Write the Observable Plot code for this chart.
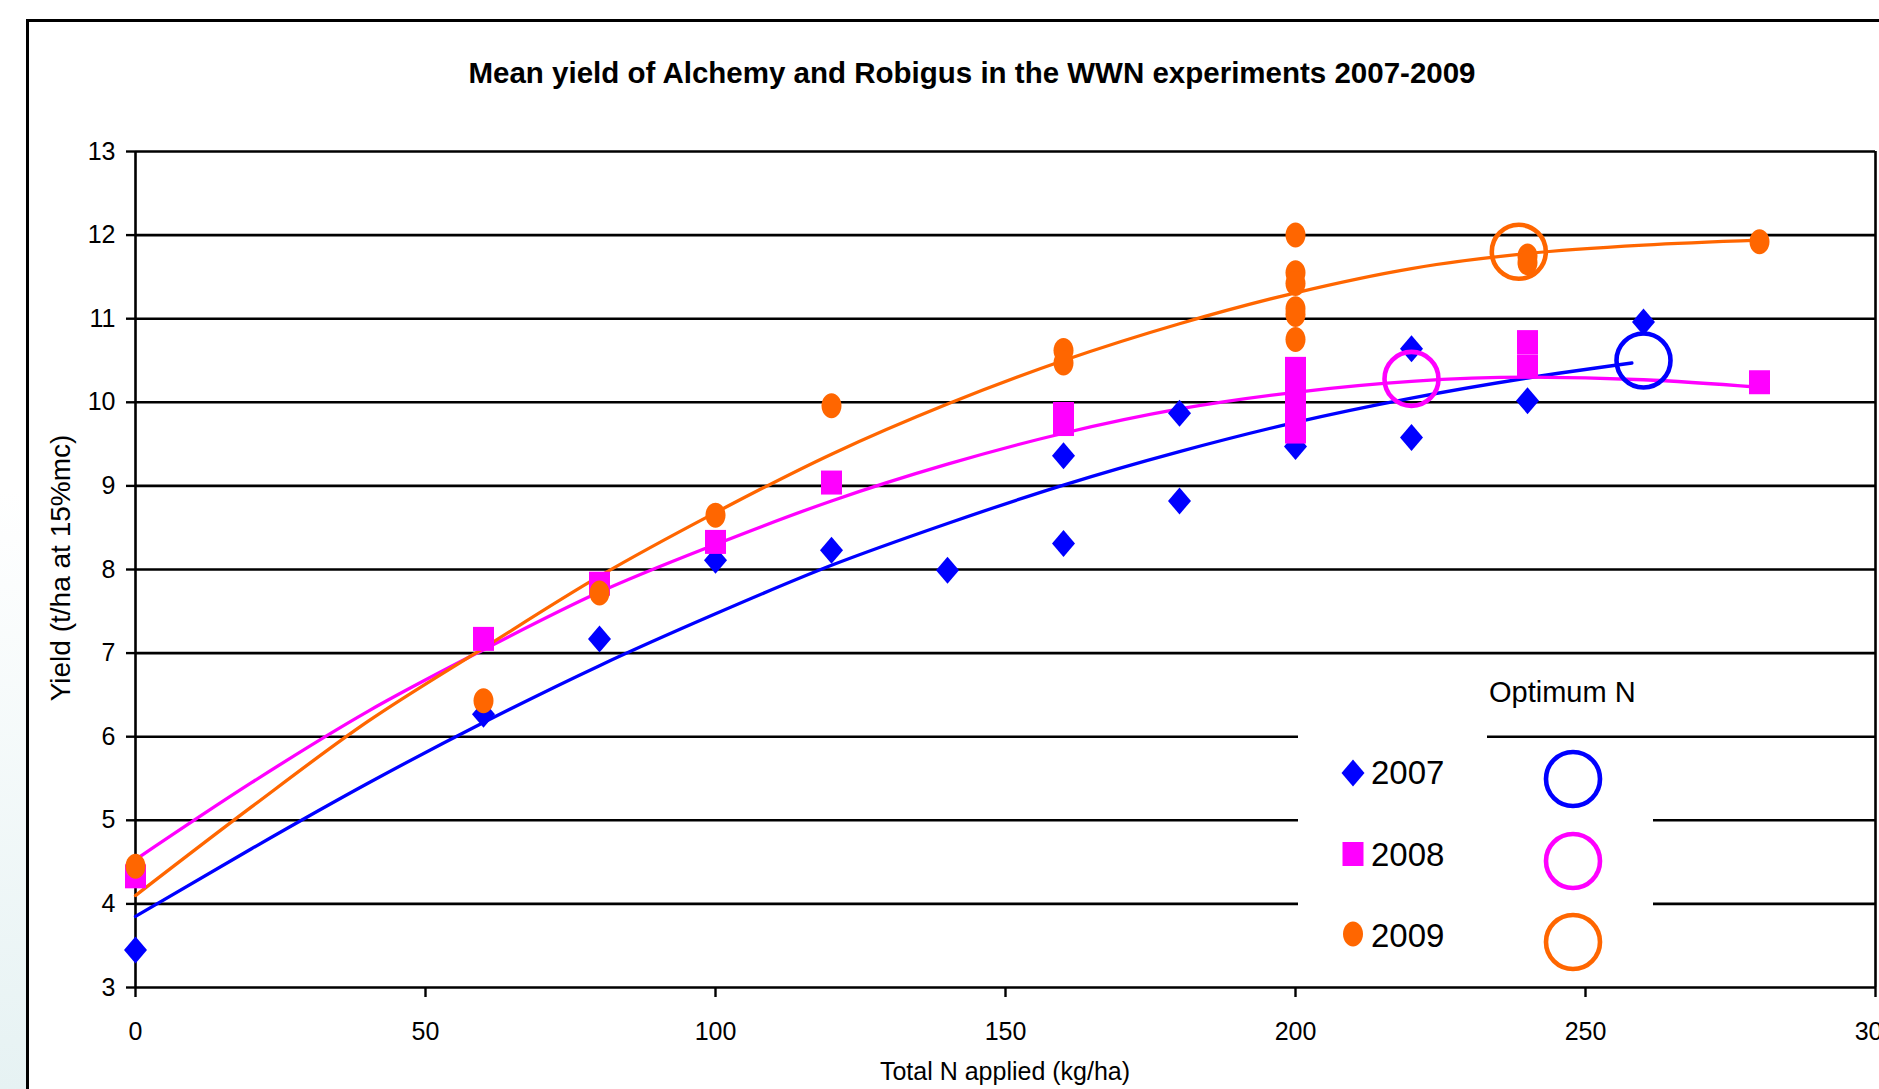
<!DOCTYPE html>
<html>
<head>
<meta charset="utf-8">
<script src="https://cdn.jsdelivr.net/npm/d3@7"></script>
<script src="https://cdn.jsdelivr.net/npm/@observablehq/plot@0.6"></script>
<style>
html, body { margin: 0; padding: 0; background: #ffffff; overflow: hidden; }
#wrap { position: relative; width: 1879px; height: 1089px; overflow: hidden; font-family: "Liberation Sans", Arial, sans-serif; }
#strip { position: absolute; left: 0; top: 0; width: 27px; height: 1089px; background: linear-gradient(to bottom, #ffffff 0%, #ffffff 45%, #e6f2f3 100%); }
#outer { position: absolute; left: 26px; top: 19px; width: 3000px; height: 3000px; border-left: 3px solid #000; border-top: 3px solid #000; background: #fff; }
#chart { position: absolute; left: 0; top: 0; }
.overlay { position: absolute; left: 0; top: 0; pointer-events: none; }
</style>
</head>
<body>
<div id="wrap">
  <div id="strip"></div>
  <div id="outer"></div>
  <div id="chart"></div>
</div>
<script>
// ---------- data ----------
const chartTitle = "Mean yield of Alchemy and Robigus in the WWN experiments 2007-2009";
const xLabel = "Total N applied (kg/ha)";
const yLabel = "Yield (t/ha at 15%mc)";
const xTicks = [0, 50, 100, 150, 200, 250, 300];
const yTicks = [3, 4, 5, 6, 7, 8, 9, 10, 11, 12, 13];
const years = ["2007", "2008", "2009"];
const colors = ["#0000FF", "#FF00FF", "#FF6600"];

// observed means
const obsN2007 = [0, 60, 80, 100, 120, 140, 160, 160, 180, 180, 200, 220, 220, 240, 260];
const obsY2007 = [3.45, 6.27, 7.17, 8.11, 8.23, 7.99, 9.36, 8.31, 9.87, 8.82, 9.47, 10.64, 9.58, 10.02, 10.96];
const obsN2008 = [0, 60, 80, 100, 120, 160, 160, 200, 200, 200, 200, 200, 200, 240, 240, 280];
const obsY2008 = [4.33, 7.17, 7.83, 8.33, 9.04, 9.86, 9.74, 10.4, 10.25, 10.1, 9.95, 9.8, 9.65, 10.72, 10.43, 10.24];
const obsN2009 = [0, 60, 80, 100, 120, 160, 160, 200, 200, 200, 200, 200, 200, 240, 240, 280];
const obsY2009 = [4.45, 6.43, 7.72, 8.65, 9.96, 10.62, 10.47, 12.0, 11.55, 11.42, 11.12, 11.05, 10.75, 11.75, 11.67, 11.92];

// fitted response curves
const fitN2007 = [0, 20, 40, 60, 80, 100, 120, 140, 160, 180, 200, 220, 240, 258];
const fitY2007 = [3.85, 4.66, 5.44, 6.17, 6.85, 7.47, 8.05, 8.55, 9.01, 9.41, 9.76, 10.05, 10.29, 10.47];
const fitN2008 = [0, 20, 40, 60, 80, 100, 120, 140, 160, 180, 200, 220, 240, 260, 280];
const fitY2008 = [4.53, 5.45, 6.3, 7.04, 7.73, 8.3, 8.82, 9.26, 9.63, 9.92, 10.12, 10.25, 10.3, 10.27, 10.18];
const fitN2009 = [0, 20, 40, 60, 80, 100, 120, 140, 160, 180, 200, 220, 240, 260, 280];
const fitY2009 = [4.1, 5.16, 6.18, 7.06, 7.92, 8.68, 9.38, 9.98, 10.5, 10.94, 11.31, 11.6, 11.78, 11.88, 11.94];

// optimum N (open circles)
const optN = [260, 220, 238.5];
const optY = [10.5, 10.28, 11.8];

// ---------- build tables ----------
const obs = [
  ...obsN2007.map((n, i) => ({year: "2007", n, y: obsY2007[i]})),
  ...obsN2008.map((n, i) => ({year: "2008", n, y: obsY2008[i]})),
  ...obsN2009.map((n, i) => ({year: "2009", n, y: obsY2009[i]}))
];
const fits = [
  ...fitN2007.map((n, i) => ({year: "2007", n, y: fitY2007[i]})),
  ...fitN2008.map((n, i) => ({year: "2008", n, y: fitY2008[i]})),
  ...fitN2009.map((n, i) => ({year: "2009", n, y: fitY2009[i]}))
];
const opts = optN.map((n, i) => ({year: years[i], n, y: optY[i]}));

// ---------- custom marker shapes ----------
const K = 0.5522847498;
function ellipseSym(rx, ry) {
  return {draw(c) {
    c.moveTo(rx, 0);
    c.bezierCurveTo(rx, ry * K, rx * K, ry, 0, ry);
    c.bezierCurveTo(-rx * K, ry, -rx, ry * K, -rx, 0);
    c.bezierCurveTo(-rx, -ry * K, -rx * K, -ry, 0, -ry);
    c.bezierCurveTo(rx * K, -ry, rx, -ry * K, rx, 0);
    c.closePath();
  }};
}
function rectSym(w, h) {
  return {draw(c) { c.moveTo(-w / 2, -h / 2); c.lineTo(w / 2, -h / 2); c.lineTo(w / 2, h / 2); c.lineTo(-w / 2, h / 2); c.closePath(); }};
}
function diamondSym(hw, hh) {
  return {draw(c) { c.moveTo(0, -hh); c.lineTo(hw, 0); c.lineTo(0, hh); c.lineTo(-hw, 0); c.closePath(); }};
}
const symbols = {"2007": diamondSym(11.5, 13.5), "2008": rectSym(21, 24), "2009": ellipseSym(10, 12.5)};
const colorOf = {"2007": colors[0], "2008": colors[1], "2009": colors[2]};

const lineMarks = years.map(yr => Plot.line(fits.filter(d => d.year === yr), {
  x: "n", y: "y", stroke: colorOf[yr], strokeWidth: 3.3, curve: "monotone-x"
}));
const dotMarks = years.map(yr => Plot.dot(obs.filter(d => d.year === yr), {
  x: "n", y: "y", fill: colorOf[yr], symbol: symbols[yr], stroke: "none"
}));
const optMarks = years.map(yr => Plot.dot(opts.filter(d => d.year === yr), {
  x: "n", y: "y", r: 27, stroke: colorOf[yr], strokeWidth: 4.6, fill: "none"
}));

const chart = Plot.plot({
  width: 1879,
  height: 1089,
  marginLeft: 135,
  marginRight: 4,
  marginTop: 151,
  marginBottom: 102,
  x: {domain: [xTicks[0], xTicks[xTicks.length - 1]]},
  y: {domain: [yTicks[0], yTicks[yTicks.length - 1]]},
  style: {fontFamily: "'Liberation Sans', Arial, sans-serif", fontSize: "25px", color: "#000", background: "transparent", overflow: "visible"},
  marks: [
    Plot.ruleY(yTicks, {stroke: "#000", strokeWidth: 2.6}),
    Plot.ruleX([xTicks[0], xTicks[xTicks.length - 1]], {stroke: "#000", strokeWidth: 2.6}),
    Plot.axisX({ticks: xTicks, tickSize: 10, tickPadding: 25, fontSize: 25, label: null, strokeWidth: 2.4}),
    Plot.axisY({ticks: yTicks, tickSize: 9, tickPadding: 11, fontSize: 25, label: null, strokeWidth: 2.4}),
    ...lineMarks,
    ...dotMarks,
    ...optMarks
  ]
});
document.getElementById("chart").appendChild(chart);

// ---------- overlay: titles & legend ----------
const ov = d3.select("#wrap").append("svg").attr("class", "overlay")
  .attr("width", 1879).attr("height", 1089)
  .style("font-family", "'Liberation Sans', Arial, sans-serif");

ov.append("text").attr("x", 972).attr("y", 83).attr("text-anchor", "middle")
  .attr("font-size", 29.5).attr("font-weight", "bold").text(chartTitle);
ov.append("text").attr("x", 1005).attr("y", 1080).attr("text-anchor", "middle")
  .attr("font-size", 25).text(xLabel);
ov.append("text").attr("transform", "translate(70,568) rotate(-90)").attr("text-anchor", "middle")
  .attr("font-size", 28).text(yLabel);

// legend boxes (white, hide grid lines)
ov.append("rect").attr("x", 1298).attr("y", 700).attr("width", 189).attr("height", 275).attr("fill", "#fff");
ov.append("rect").attr("x", 1487).attr("y", 745).attr("width", 166).attr("height", 230).attr("fill", "#fff");
ov.append("text").attr("x", 1489).attr("y", 702).attr("font-size", 29).text("Optimum N");

const legY = [773, 854, 934];
const legBase = [784, 866, 947];
const circY = [779, 861, 942];
years.forEach((yr, i) => {
  const g = ov.append("g").attr("transform", `translate(1353,${legY[i]})`);
  const p = d3.path();
  symbols[yr].draw(p);
  g.append("path").attr("d", p.toString()).attr("fill", colorOf[yr]);
  ov.append("text").attr("x", 1371).attr("y", legBase[i]).attr("font-size", 33).text(yr);
  ov.append("circle").attr("cx", 1573).attr("cy", circY[i]).attr("r", 27)
    .attr("fill", "none").attr("stroke", colorOf[yr]).attr("stroke-width", 4.6);
});
</script>
</body>
</html>
